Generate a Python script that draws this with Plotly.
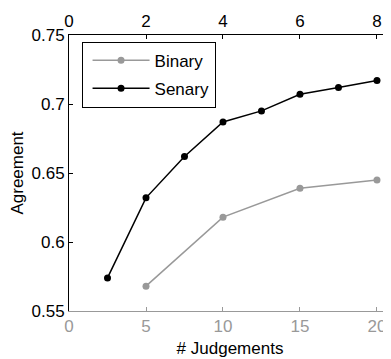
import plotly.graph_objects as go

binary_x = [5, 10, 15, 20]
binary_y = [0.568, 0.618, 0.639, 0.645]
senary_x = [1, 2, 3, 4, 5, 6, 7, 8]
senary_y = [0.574, 0.632, 0.662, 0.687, 0.695, 0.707, 0.712, 0.717]
y_ticks = [0.55, 0.6, 0.65, 0.7, 0.75]
y_labels = ["0.55", "0.6", "0.65", "0.7", "0.75"]
bottom_ticks = [0, 5, 10, 15, 20]
top_ticks = [0, 2, 4, 6, 8]

GRAY = "#999999"
FONT = "Liberation Sans, Arial, sans-serif"
FS = 17

fig = go.Figure()
fig.add_trace(go.Scatter(x=binary_x, y=binary_y, mode="lines+markers", name="Binary",
                         legendgroup="b",
                         line=dict(color=GRAY, width=1.5), marker=dict(color=GRAY, size=7),
                         xaxis="x", yaxis="y"))
fig.add_trace(go.Scatter(x=senary_x, y=senary_y, mode="lines+markers", name="Senary",
                         legendgroup="s",
                         line=dict(color="black", width=1.5), marker=dict(color="black", size=7),
                         xaxis="x2", yaxis="y"))

# page body has an 8px margin: shift figure so the plot lands where the reference has it
fig.update_layout(
    width=383, height=351,
    margin=dict(l=61, r=0, t=27, b=48, autoexpand=False),
    paper_bgcolor="white", plot_bgcolor="white",
    font=dict(family=FONT, size=FS, color="black"),
    xaxis=dict(range=[0, 20.91], tickvals=bottom_ticks, ticks="inside", ticklen=4,
               tickcolor=GRAY, linecolor=GRAY, showline=True, showgrid=False, zeroline=False,
               tickfont=dict(color=GRAY, size=FS), automargin=False,
               title=dict(text="# Judgements", font=dict(size=FS, color="black"), standoff=6)),
    xaxis2=dict(range=[0, 8.364], tickvals=top_ticks, overlaying="x", side="top",
                ticks="inside", ticklen=4, tickcolor="black", linecolor="black", showline=True,
                showgrid=False, zeroline=False, tickfont=dict(size=FS), automargin=False),
    yaxis=dict(range=[0.55, 0.75], tickvals=y_ticks, ticktext=y_labels, ticks="inside",
               ticklen=4, tickcolor="black", linecolor="black", showline=True,
               showgrid=False, zeroline=False, automargin=False,
               title=dict(text="Agreement", font=dict(size=FS), standoff=4)),
    legend=dict(x=0.039, y=0.976, xanchor="left", yanchor="top", bgcolor="white",
                bordercolor="black", borderwidth=1, font=dict(size=FS), itemwidth=57,
                indentation=5, tracegroupgap=3),
)

fig.write_html("out.html")
